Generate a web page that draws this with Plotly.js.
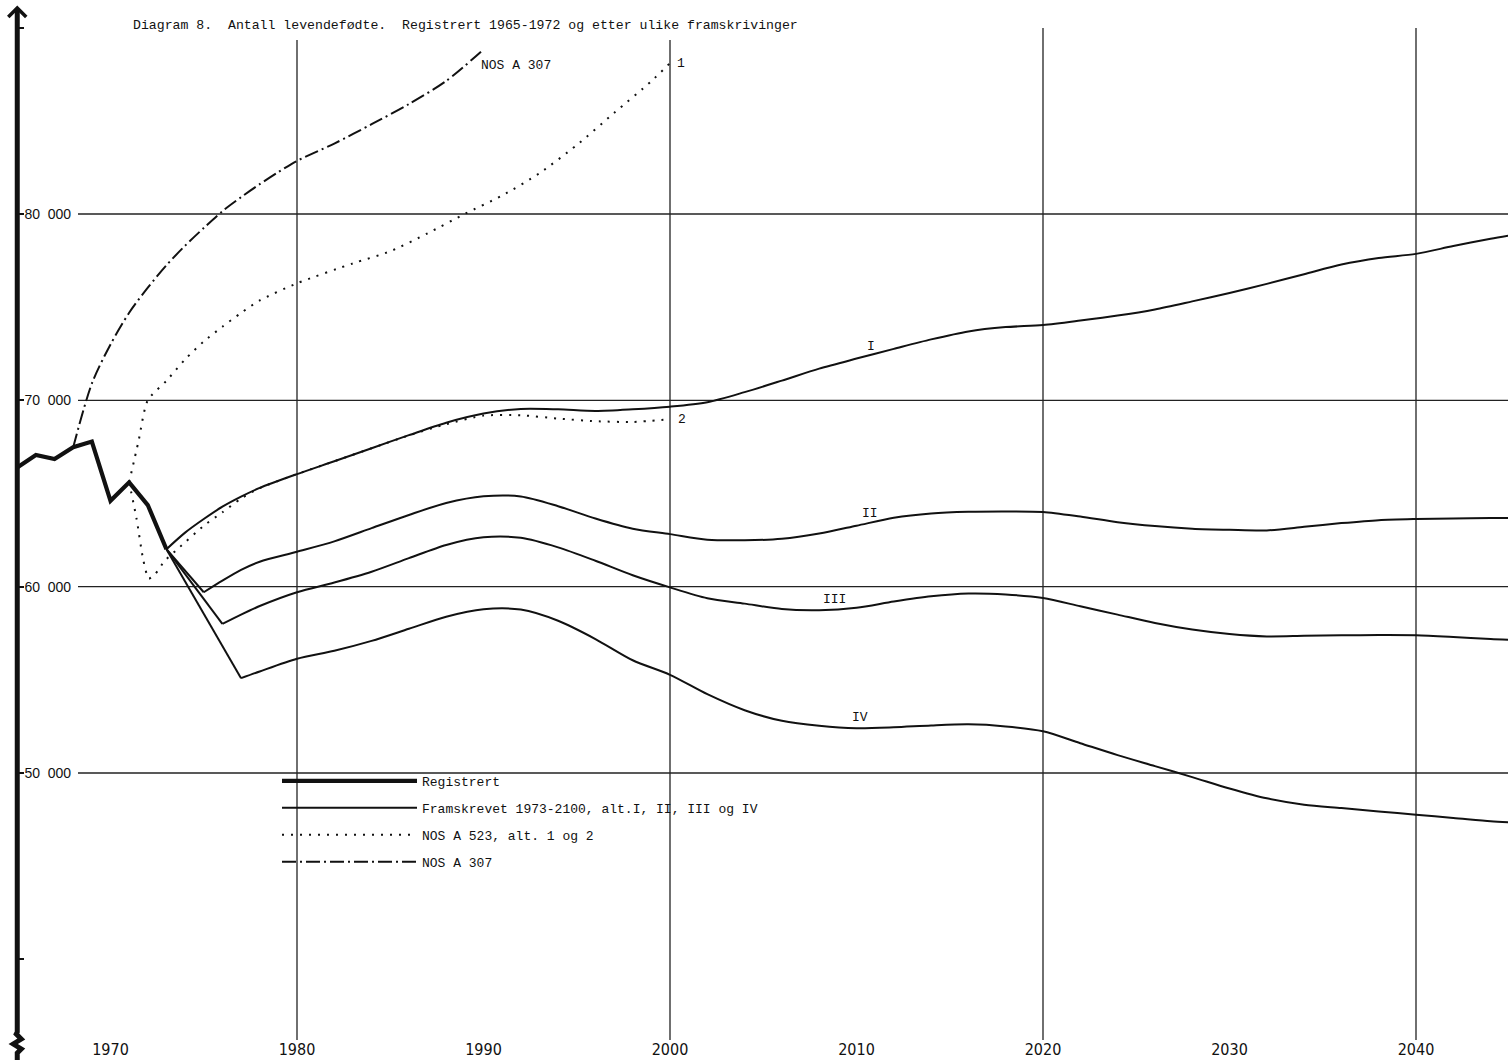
<!DOCTYPE html>
<html><head><meta charset="utf-8">
<script src="https://cdn.plot.ly/plotly-3.0.1.min.js"></script>
<style>html,body{margin:0;padding:0;background:#fff;overflow:hidden}#chart{width:1508px;height:1060px}</style>
</head><body><div id="chart"></div>
<script>
// ---- data ----
const regYears  = [1965,1966,1967,1968,1969,1970,1971,1972,1973];
const regValues = [66400,67070,66850,67480,67790,64610,65600,64380,62010];

const altIYears  = [1973,1974,1975,1976,1977,1978,1980,1982,1984,1986,1988,1990,1992,1994,1996,1998,2000,2002,2004,2006,2008,2010,2012,2014,2016,2018,2020,2022,2024,2026,2028,2030,2032,2034,2036,2038,2040,2042,2044,2045];
const altIValues = [62010,62900,63630,64290,64830,65300,66040,66730,67430,68130,68800,69290,69540,69520,69430,69520,69660,69900,70440,71060,71700,72240,72760,73270,73700,73930,74040,74280,74550,74880,75310,75760,76250,76770,77290,77640,77860,78280,78670,78850];

const altIIYears  = [1973,1975,1976,1977,1978,1980,1982,1984,1986,1988,1990,1992,1994,1996,1998,2000,2002,2004,2006,2008,2010,2012,2014,2016,2018,2020,2022,2024,2026,2028,2030,2032,2034,2036,2038,2040,2042,2044,2045];
const altIIValues = [62010,59700,60320,60900,61340,61875,62430,63140,63850,64490,64850,64840,64320,63660,63110,62820,62520,62490,62570,62850,63270,63700,63930,64020,64040,64010,63760,63460,63250,63110,63050,63020,63210,63410,63570,63630,63660,63680,63690];

const altIIIYears  = [1973,1976,1977,1978,1980,1982,1984,1986,1988,1990,1992,1994,1996,1998,2000,2002,2004,2006,2008,2010,2012,2014,2016,2018,2020,2022,2024,2026,2028,2030,2032,2034,2036,2038,2040,2042,2044,2045];
const altIIIValues = [62010,58000,58500,58960,59700,60220,60800,61530,62240,62650,62620,62110,61390,60610,59960,59380,59090,58800,58740,58870,59200,59480,59630,59580,59390,58950,58500,58050,57700,57460,57330,57360,57390,57400,57390,57300,57190,57150];

const altIVYears  = [1973,1977,1978,1980,1982,1984,1986,1988,1990,1992,1994,1996,1998,2000,2002,2004,2006,2008,2010,2012,2014,2016,2018,2020,2022,2024,2026,2028,2030,2032,2034,2036,2038,2040,2042,2044,2045];
const altIVValues = [62010,55090,55450,56130,56560,57090,57740,58390,58790,58770,58170,57190,56050,55270,54230,53370,52800,52530,52400,52450,52550,52610,52500,52240,51600,50960,50370,49780,49170,48640,48300,48120,47940,47760,47590,47410,47350];

const nos523aYears  = [1971,1971.5,1972,1973,1974,1975,1976,1977,1978,1980,1983,1985,1987,1989,1991,1993,1995,1997,1999,2000];
const nos523aValues = [65600,67800,70000,71050,72200,73160,73950,74690,75360,76280,77350,78000,78960,80010,80990,82190,83700,85420,87130,88100];

const nos523bYears  = [1971,1971.4,1971.75,1972.05,1972.4,1972.9,1973.6,1975,1976,1977,1978,1980,1982,1984,1986,1988,1990,1992,1994,1996,1998,2000];
const nos523bValues = [65600,63630,61470,60430,60680,61380,62020,63270,63990,64730,65290,66040,66730,67430,68120,68720,69180,69200,69020,68880,68840,68980];

const nos307Years  = [1968,1969,1970,1971,1972,1973,1974,1975,1976,1977,1978,1979,1980,1982,1984,1986,1988,1990];
const nos307Values = [67480,70900,73000,74700,76050,77250,78300,79250,80150,80900,81600,82250,82850,83780,84820,85900,87140,88830];

const yTickVals  = [40000,50000,60000,70000,80000,90000];
const yTickText  = ['', '50\u00a0\u00a0000', '60\u00a0\u00a0000', '70\u00a0\u00a0000', '80\u00a0\u00a0000', ''];
const gridValues = [50000,60000,70000,80000];
const xTickVals  = [1970,1980,1990,2000,2010,2020,2030,2040];
const xTickText  = ['1970','1980','1990','2000','2010','2020','2030','2040'];
const gridYears  = [1980,2000,2020,2040];

const legendNames = ['Registrert', 'Framskrevet 1973-2100, alt.I, II, III og IV', 'NOS A 523, alt. 1 og 2', 'NOS A 307'];
const title = 'Diagram 8.\u00a0 Antall levendefødte.\u00a0 Registrert 1965-1972 og etter ulike framskrivinger';

// ---- drawing ----
const W = 1508, H = 1060;
const MONO = 'Liberation Mono, DejaVu Sans Mono, monospace';
const INK = '#111';

function firstMinIndex(v){ for(let i=1;i<v.length-1;i++){ if(v[i+1]>v[i]) return i; } return 0; }

const traces = [];
function projection(years, vals){
  const k = firstMinIndex(vals);
  traces.push({x: years.slice(0,k+1), y: vals.slice(0,k+1), mode:'lines', line:{color:INK,width:2,shape:'linear'}, showlegend:false, legendgroup:'fram', hoverinfo:'skip'});
  traces.push({x: years.slice(k), y: vals.slice(k), mode:'lines', line:{color:INK,width:2,shape:'spline',smoothing:0.8}, showlegend:false, legendgroup:'fram', hoverinfo:'skip'});
}

traces.push({x: nos307Years, y: nos307Values, mode:'lines', name: legendNames[3], legendgroup:'n307', legendrank:4,
  line:{color:INK,width:2,dash:'14px,4px,2px,4px',shape:'spline',smoothing:0.8}});
traces.push({x: nos523aYears, y: nos523aValues, mode:'lines', name: legendNames[2], legendgroup:'n523', legendrank:3,
  line:{color:INK,width:2,dash:'2px,7px',shape:'spline',smoothing:0.7}});
traces.push({x: nos523bYears, y: nos523bValues, mode:'lines', showlegend:false, legendgroup:'n523',
  line:{color:INK,width:2,dash:'2px,7px',shape:'spline',smoothing:0.6}});
traces.push({x: altIYears, y: altIValues, mode:'lines', name: legendNames[1], legendgroup:'fram', legendrank:2,
  line:{color:INK,width:2,shape:'spline',smoothing:0.8}});
projection(altIIYears, altIIValues);
projection(altIIIYears, altIIIValues);
projection(altIVYears, altIVValues);
traces.push({x: regYears, y: regValues, mode:'lines', name: legendNames[0], legendgroup:'reg', legendrank:1,
  line:{color:INK,width:4.2,shape:'linear'}});

const shapes = [];
gridValues.forEach(v => shapes.push({type:'line', xref:'paper', yref:'y', x0:78/W, x1:1, y0:v, y1:v, line:{color:'#222',width:1.3}, layer:'below'}));
gridYears.forEach(yr => shapes.push({type:'line', xref:'x', yref:'paper', x0:yr, x1:yr, y0:1-1040/H, y1: yr<2010 ? 1-40/H : 1-28/H, line:{color:'#222',width:1.3}, layer:'below'}));
// left axis with break mark and arrow
shapes.push({type:'path', xref:'x', xsizemode:'pixel', xanchor:1965, yref:'paper', ysizemode:'pixel', yanchor:0,
  path:'M0,0 L0,7 L4,11 L-4,16 L4,21 L-1,26 L0,28 L0,1051', line:{color:INK,width:5}});
shapes.push({type:'path', xref:'x', xsizemode:'pixel', xanchor:1965, yref:'paper', ysizemode:'pixel', yanchor:0,
  path:'M-9,1043 L0,1052 L9,1043', line:{color:INK,width:3.5}});

const annotations = [
  {text:title, xref:'paper', yref:'paper', x:131/W, y:1-26/H, xanchor:'left', yanchor:'middle', showarrow:false, font:{family:MONO,size:13.2,color:INK}},
  {text:'I',   xref:'x', yref:'y', x:2010.8, y:72900, showarrow:false, font:{family:MONO,size:13,color:INK}},
  {text:'II',  xref:'x', yref:'y', x:2010.7, y:63900, showarrow:false, font:{family:MONO,size:13,color:INK}},
  {text:'III', xref:'x', yref:'y', x:2008.8, y:59300, showarrow:false, font:{family:MONO,size:13,color:INK}},
  {text:'IV',  xref:'x', yref:'y', x:2010.2, y:53000, showarrow:false, font:{family:MONO,size:13,color:INK}},
  {text:'1',   xref:'x', yref:'y', x:2000.25, y:88100, xanchor:'left', showarrow:false, font:{family:MONO,size:13,color:INK}},
  {text:'2',   xref:'x', yref:'y', x:2000.3, y:68950, xanchor:'left', showarrow:false, font:{family:MONO,size:13,color:INK}},
  {text:'NOS A 307', xref:'x', yref:'y', x:1989.75, y:87950, xanchor:'left', showarrow:false, font:{family:MONO,size:13,color:INK}}
];

const layout = {
  width:W, height:H, margin:{l:0,r:0,t:0,b:0}, paper_bgcolor:'#fff', plot_bgcolor:'#fff',
  showlegend:true,
  legend:{x:277/W, y:1-766/H, xanchor:'left', yanchor:'top', bgcolor:'rgba(0,0,0,0)', borderwidth:0,
    font:{family:MONO,size:13,color:INK}, itemwidth:135, tracegroupgap:7, traceorder:'grouped'},
  xaxis:{range:[1964.075,2044.933], showgrid:false, zeroline:false, showline:false, ticks:'',
    tickvals:xTickVals, ticktext:xTickText, ticklabelposition:'inside', ticklabelstandoff:-1,
    tickfont:{family:'Liberation Sans Narrow, DejaVu Sans Condensed, Roboto Condensed, sans-serif', size:16, color:INK}},
  yaxis:{range:[34597,91485], anchor:'free', position:17.25/W, showgrid:false, zeroline:false, showline:false,
    ticks:'inside', ticklen:6, tickwidth:2, tickcolor:INK,
    tickvals:yTickVals, ticktext:yTickText, ticklabelposition:'inside',
    tickfont:{family:'Liberation Sans, Arial, sans-serif', size:14, color:INK}},
  shapes:shapes, annotations:annotations
};

Plotly.newPlot('chart', traces, layout, {displayModeBar:false, staticPlot:true});
</script></body></html>
